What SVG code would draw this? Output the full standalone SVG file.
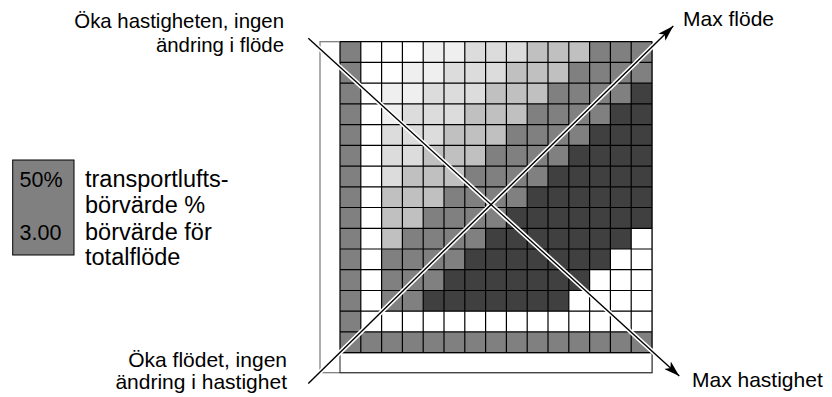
<svg xmlns="http://www.w3.org/2000/svg" width="832" height="397" viewBox="0 0 832 397">
<style>
text{font-family:"Liberation Sans",Arial,sans-serif;font-size:21px;fill:#000}
.big{font-size:23.5px}
.tl{font-size:20.4px}
.w{fill:#fff}.vl{fill:#efefef}.l{fill:#dcdcdc}.ml{fill:#c0c0c0}.m{fill:#808080}.d{fill:#404040}
.gl{stroke:#000;stroke-width:1.2;fill:none}
.halo{stroke:#fff;stroke-width:4.5;fill:none}
.core{stroke:#000;stroke-width:1.4;fill:none}
</style>
<defs>
<marker id="ah" viewBox="0 0 16 10" refX="16" refY="5" markerWidth="16" markerHeight="10" markerUnits="userSpaceOnUse" orient="auto">
<path d="M0,0 L16,5 L0,10 L4,5 Z" fill="#000"/>
</marker>
</defs>
<rect width="832" height="397" fill="#fff"/>

<g id="frame">
<rect x="320" y="41.7" width="332" height="331" fill="#fff" stroke="#777" stroke-width="1.2"/>
<rect x="340" y="352.7" width="312" height="20" fill="#fff" stroke="#222" stroke-width="1"/>
</g>

<g id="grid">
<rect class="m" x="340" y="41.7" width="312" height="311"/>
<rect class="w" x="360.8" y="41.7" width="20.8" height="290.2"/>
<rect class="w" x="381.6" y="41.7" width="41.6" height="20.8"/>
<rect class="vl" x="423.2" y="41.7" width="41.6" height="20.8"/>
<rect class="l" x="464.8" y="41.7" width="62.4" height="20.8"/>
<rect class="ml" x="527.2" y="41.7" width="62.4" height="20.8"/>

<rect class="w" x="381.6" y="62.4" width="20.8" height="20.8"/>
<rect class="vl" x="402.4" y="62.4" width="41.6" height="20.8"/>
<rect class="l" x="444" y="62.4" width="62.4" height="20.8"/>
<rect class="ml" x="506.4" y="62.4" width="62.4" height="20.8"/>

<rect class="vl" x="381.6" y="83.2" width="41.6" height="20.8"/>
<rect class="l" x="423.2" y="83.2" width="62.4" height="20.8"/>
<rect class="ml" x="485.6" y="83.2" width="62.4" height="20.8"/>
<rect class="d" x="631.2" y="83.2" width="20.8" height="20.8"/>

<rect class="vl" x="381.6" y="103.9" width="20.8" height="20.8"/>
<rect class="l" x="402.4" y="103.9" width="62.4" height="20.8"/>
<rect class="ml" x="464.8" y="103.9" width="62.4" height="20.8"/>
<rect class="d" x="610.4" y="103.9" width="41.6" height="20.8"/>

<rect class="l" x="381.6" y="124.6" width="62.4" height="20.8"/>
<rect class="ml" x="444" y="124.6" width="62.4" height="20.8"/>
<rect class="d" x="589.6" y="124.6" width="62.4" height="20.8"/>

<rect class="l" x="381.6" y="145.4" width="41.6" height="20.8"/>
<rect class="ml" x="423.2" y="145.4" width="62.4" height="20.8"/>
<rect class="d" x="568.8" y="145.4" width="83.2" height="20.8"/>

<rect class="l" x="381.6" y="166.1" width="20.8" height="20.8"/>
<rect class="ml" x="402.4" y="166.1" width="62.4" height="20.8"/>
<rect class="d" x="548" y="166.1" width="104" height="20.8"/>

<rect class="ml" x="381.6" y="186.8" width="62.4" height="20.8"/>
<rect class="d" x="527.2" y="186.8" width="124.8" height="20.8"/>

<rect class="ml" x="381.6" y="207.5" width="41.6" height="20.8"/>
<rect class="d" x="506.4" y="207.5" width="145.6" height="20.8"/>

<rect class="ml" x="381.6" y="228.3" width="20.8" height="20.8"/>
<rect class="d" x="485.6" y="228.3" width="145.6" height="20.8"/>
<rect class="w" x="631.2" y="228.3" width="20.8" height="20.8"/>

<rect class="d" x="464.8" y="249" width="145.6" height="20.8"/>
<rect class="w" x="610.4" y="249" width="41.6" height="20.8"/>

<rect class="d" x="444" y="269.7" width="145.6" height="20.8"/>
<rect class="w" x="589.6" y="269.7" width="62.4" height="20.8"/>

<rect class="d" x="423.2" y="290.5" width="145.6" height="20.8"/>
<rect class="w" x="568.8" y="290.5" width="83.2" height="20.8"/>

<rect class="w" x="360.8" y="311.2" width="291.2" height="20.8"/>

<path class="gl" d="M340 41.7V352.7M360.8 41.7V352.7M381.6 41.7V352.7M402.4 41.7V352.7M423.2 41.7V352.7M444 41.7V352.7M464.8 41.7V352.7M485.6 41.7V352.7M506.4 41.7V352.7M527.2 41.7V352.7M548 41.7V352.7M568.8 41.7V352.7M589.6 41.7V352.7M610.4 41.7V352.7M631.2 41.7V352.7M652 41.7V352.7M340 41.7H652M340 62.4H652M340 83.2H652M340 103.9H652M340 124.6H652M340 145.4H652M340 166.1H652M340 186.8H652M340 207.5H652M340 228.3H652M340 249H652M340 269.7H652M340 290.5H652M340 311.2H652M340 331.9H652M340 352.7H652"/>
</g>

<g id="connectors">
<line class="halo" x1="308.3" y1="38.3" x2="669" y2="366.6"/>
<line class="halo" x1="308.3" y1="383.6" x2="662.5" y2="36.6"/>
<line class="core" x1="308.3" y1="38.3" x2="679.3" y2="376" marker-end="url(#ah)"/>
<line class="core" x1="308.3" y1="383.6" x2="673.3" y2="26" marker-end="url(#ah)"/>
</g>

<g id="legend">
<rect x="12.7" y="160" width="61.3" height="95" fill="#808080" stroke="#000" stroke-width="1"/>
<text x="19.5" y="187" style="font-size:21.5px">50%</text>
<text x="19.5" y="240" style="font-size:21.5px">3.00</text>
<text class="big" x="85" y="187">transportlufts-</text>
<text class="big" x="85" y="213">börvärde %</text>
<text class="big" x="85" y="239.5">börvärde för</text>
<text class="big" x="85" y="265">totalflöde</text>
</g>

<g id="labels">
<text class="tl" x="284" y="28" text-anchor="end">Öka hastigheten, ingen</text>
<text class="tl" x="284" y="51.5" text-anchor="end">ändring i flöde</text>
<text x="287" y="366.5" text-anchor="end">Öka flödet, ingen</text>
<text x="287" y="388.5" text-anchor="end">ändring i hastighet</text>
<text x="683" y="26">Max flöde</text>
<text x="692" y="386.5">Max hastighet</text>
</g>
</svg>
